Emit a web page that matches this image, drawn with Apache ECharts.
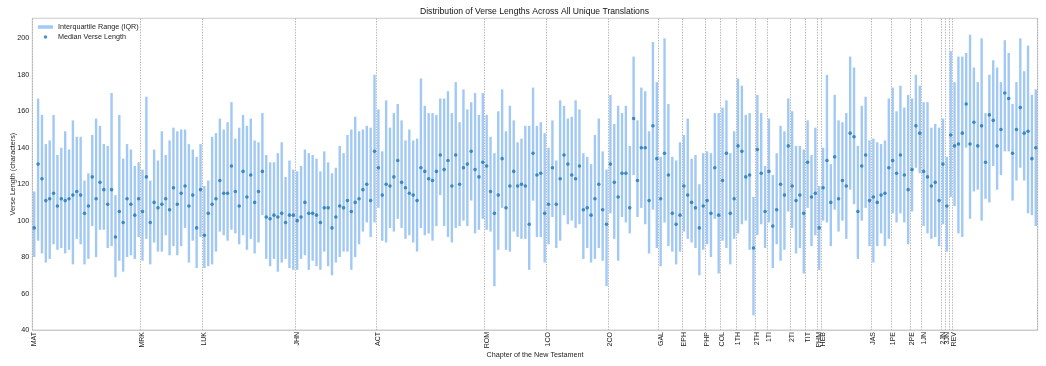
<!DOCTYPE html>
<html>
<head>
<meta charset="utf-8">
<script src="https://cdn.jsdelivr.net/npm/echarts@6.0.0/dist/echarts.min.js"></script>
<style>
  html, body { margin: 0; padding: 0; background: #fff; }
  #chart { width: 1046px; height: 366px; }
</style>
</head>
<body>
<div id="chart"></div>
<script>
// books of the New Testament and how many chapters each one has
const books = ["MAT", "MRK", "LUK", "JHN", "ACT", "ROM", "1CO", "2CO", "GAL", "EPH", "PHP", "COL", "1TH", "2TH",
  "1TI", "2TI", "TIT", "PHM", "HEB", "JAS", "1PE", "2PE", "1JN", "2JN", "3JN", "JUD", "REV"];
const chapterCounts = [28, 16, 24, 21, 28, 16, 16, 13, 6, 6, 4, 4, 5, 3, 6, 4, 3, 1, 13, 5, 5, 3, 5, 1, 1, 1, 22];

// 25th percentile of verse length per chapter
const q1 = [
  80, 89, 82, 77, 79, 87, 84, 85, 82, 84, 76, 90, 87, 76, 79, 97, 80, 95, 95, 85, 86, 69, 78, 72, 80, 81, 79, 91, // MAT
  78, 90, 76, 88, 83, 83, 92, 81, 86, 81, 86, 96, 77, 89, 74, 91, // MRK
  74, 75, 76, 83, 94, 92, 89, 95, 93, 87, 92, 84, 90, 82, 88, 103, 79, 75, 79, 72, 77, 79, 74, 73, // LUK
  73, 79, 81, 73, 78, 75, 73, 83, 75, 70, 77, 80, 83, 83, 73, 80, 87, 94, 99, 91, 99, // JHN
  107, 89, 88, 96, 94, 101, 96, 90, 92, 88, 83, 96, 92, 93, 89, 97, 114, 97, 91, 88, 96, 97, 100, 97, 111, 93, 95, 101, // ACT
  95, 94, 64, 84, 107, 84, 83, 94, 91, 90, 90, 73, 111, 91, 91, 77, // ROM
  87, 102, 85, 89, 103, 98, 100, 96, 98, 79, 85, 77, 79, 85, 78, 64, // 1CO
  104, 90, 78, 102, 99, 93, 125, 102, 107, 98, 82, 106, 85, // 2CO
  75, 99, 86, 83, 76, 83, // GAL
  94, 90, 88, 85, 70, 84, // EPH
  87, 80, 101, 71, // PHP
  89, 85, 76, 90, // COL
  93, 98, 100, 84, 48, // 1TH
  92, 98, 85, // 2TH
  99, 74, 87, 78, 84, 105, // 1TI
  96, 82, 85, 71, // 2TI
  107, 86, 92, // TIT
  73, // PHM
  100, 99, 86, 106, 94, 100, 90, 117, 109, 79, 100, 107, 86, // HEB
  77, 86, 93, 86, 90, // JAS
  104, 99, 104, 99, 87, // 1PE
  105, 129, 126, // 2PE
  97, 93, 90, 91, 86, // 1JN
  98, 83, 113, // 2JN 3JN JUD
  108, 93, 91, 140, 101, 116, 117, 100, 112, 110, 130, 117, 125, 138, 138, 111, 122, 129, 122, 104, 103, 97 // REV
];

// median verse length per chapter
const median = [
  96, 131, 123, 111, 112, 115, 108, 112, 111, 112, 114, 116, 114, 104, 108, 124, 112, 121, 117, 109, 117, 91, 105, 99, 112, 109, 103, 112,
  105, 124, 99, 110, 107, 109, 112, 106, 118, 109, 115, 119, 108, 114, 96, 117,
  92, 104, 109, 112, 122, 115, 115, 130, 116, 108, 127, 113, 125, 110, 116, 127, 102, 101, 103, 102, 104, 99, 103, 103,
  100, 102, 110, 104, 104, 103, 99, 107, 107, 96, 102, 108, 107, 111, 105, 110, 112, 117, 120, 111, 138,
  129, 114, 120, 119, 124, 133, 121, 118, 115, 114, 111, 129, 127, 123, 122, 127, 136, 128, 133, 119, 136, 120, 129, 131, 138, 128, 124, 132,
  130, 116, 104, 114, 134, 107, 119, 127, 119, 120, 119, 98, 137, 125, 126, 104,
  109, 129, 109, 123, 136, 131, 125, 123, 130, 106, 107, 103, 112, 120, 106, 98,
  131, 121, 113, 126, 126, 107, 156, 122, 140, 140, 111, 152, 134,
  112, 137, 125, 104, 98, 103,
  119, 114, 110, 107, 96, 108,
  111, 104, 129, 103,
  122, 137, 104, 112,
  141, 138, 124, 125, 85,
  139, 126, 105,
  127, 97, 106, 120, 114, 141,
  119, 111, 114, 104,
  132, 113, 115,
  96,
  118, 133, 110, 135, 112, 122, 119, 148, 146, 105, 130, 136, 111,
  113, 110, 114, 115, 129,
  133, 126, 136, 125, 117,
  128, 152, 148,
  127, 124, 119, 121, 111,
  131, 108, 147,
  141, 142, 148, 164, 142, 154, 141, 152, 132, 158, 155, 141, 150, 170, 167, 137, 150, 162, 148, 149, 134, 140
];

// 75th percentile per chapter
const q3 = [
  116, 167, 158, 142, 144, 158, 136, 140, 149, 139, 155, 146, 146, 122, 126, 147, 156, 152, 142, 141, 170, 114, 158, 134, 142, 139, 130, 132,
  128, 168, 122, 139, 133, 149, 136, 144, 151, 149, 150, 150, 142, 139, 135, 142,
  119, 122, 146, 148, 156, 150, 154, 165, 145, 151, 158, 152, 156, 144, 143, 159, 136, 132, 132, 137, 143, 124, 133, 128,
  127, 130, 139, 137, 136, 134, 127, 138, 132, 126, 129, 141, 137, 147, 150, 157, 149, 150, 152, 151, 180,
  161, 138, 166, 151, 159, 164, 155, 144, 150, 144, 145, 178, 163, 159, 159, 158, 167, 167, 171, 159, 176, 154, 172, 161, 165, 170, 158, 170,
  158, 146, 137, 160, 172, 149, 163, 155, 143, 145, 152, 152, 173, 152, 154, 148,
  140, 155, 133, 166, 163, 156, 157, 166, 161, 137, 135, 131, 147, 156, 138, 128,
  169, 153, 163, 159, 163, 141, 190, 155, 173, 171, 149, 198, 176,
  135, 200, 164, 135, 133, 143,
  147, 156, 134, 136, 120, 137,
  138, 137, 159, 159,
  162, 166, 137, 149,
  178, 174, 158, 159, 113,
  169, 159, 130,
  156, 125, 137, 152, 149, 167,
  160, 141, 141, 139,
  155, 136, 151,
  119,
  140, 180, 131, 169, 155, 154, 159, 190, 184, 141, 163, 168, 144,
  145, 143, 142, 144, 167,
  173, 160, 174, 162, 169,
  167, 180, 174,
  165, 165, 151, 153, 151,
  156, 135, 193,
  176, 190, 190, 192, 202, 184, 176, 200, 159, 180, 188, 184, 176, 199, 192, 164, 176, 200, 182, 196, 169, 172
];

// y axis range
const yMin = 40;
const yMax = 211;
const yStep = 20;

const FONT = "'Liberation Sans', Arial, Helvetica, sans-serif";
const TEXT = "#222";

// one category per chapter, e.g. "MAT 1"
const chapters = [];
const bookStarts = new Set();
books.forEach((b, k) => {
  bookStarts.add(chapters.length);
  for (let c = 1; c <= chapterCounts[k]; c++) chapters.push(b + " " + c);
});

const isBookStart = (idx) => bookStarts.has(idx);

const option = {
  animation: false,
  backgroundColor: "#fff",
  textStyle: { fontFamily: FONT },
  title: {
    text: "Distribution of Verse Lengths Across All Unique Translations",
    left: 420,
    top: 7,
    padding: 0,
    textStyle: { fontFamily: FONT, fontSize: 8.6, fontWeight: "normal", color: "#111" },
  },
  legend: {
    orient: "vertical",
    left: 38,
    top: 23.5,
    padding: 0,
    itemWidth: 15,
    itemHeight: 3.5,
    itemGap: 3,
    textStyle: { fontFamily: FONT, fontSize: 7.2, color: TEXT },
    data: [
      { name: "Interquartile Range (IQR)", icon: "rect" },
      { name: "Median Verse Length", icon: "circle" },
    ],
  },
  grid: {
    left: 32.3,
    right: 8.3,
    top: 18.3,
    bottom: 36,
    show: true,
    borderColor: "#cccccc",
    borderWidth: 1,
    containLabel: false,
    outerBoundsMode: "none",
  },
  xAxis: {
    type: "category",
    data: chapters,
    boundaryGap: true,
    name: "Chapter of the New Testament",
    nameLocation: "middle",
    nameGap: 22,
    nameMoveOverlap: false,
    nameTextStyle: { fontFamily: FONT, fontSize: 7.2, color: TEXT },
    axisLine: { show: true, lineStyle: { color: "#cccccc", width: 1 } },
    axisTick: { show: false },
    axisLabel: {
      interval: isBookStart,
      rotate: 90,
      margin: 2,
      fontSize: 7,
      color: TEXT,
      fontFamily: FONT,
      hideOverlap: false,
      showMinLabel: true,
      showMaxLabel: true,
      formatter: (v) => v.split(" ")[0],
    },
    splitLine: {
      show: true,
      interval: isBookStart,
      lineStyle: { color: "#a8a8a8", width: 0.8, type: [1.5, 1.2] },
    },
  },
  yAxis: {
    type: "value",
    min: yMin,
    max: yMax,
    interval: yStep,
    name: "Verse Length (characters)",
    nameLocation: "middle",
    nameGap: 16,
    nameMoveOverlap: false,
    nameTextStyle: { fontFamily: FONT, fontSize: 7.2, color: TEXT },
    axisLine: { show: false },
    axisTick: { show: false },
    splitLine: { show: false },
    axisLabel: { fontSize: 7.2, color: TEXT, fontFamily: FONT, margin: 3, showMaxLabel: false },
  },
  series: [
    {
      name: "Interquartile Range (IQR)",
      type: "custom",
      itemStyle: { color: "#a1c9f4" },
      encode: { x: 0, y: [1, 2] },
      data: chapters.map((c, i) => [i, q1[i], q3[i]]),
      renderItem: (params, api) => {
        const lo = api.coord([api.value(0), api.value(1)]);
        const hi = api.coord([api.value(0), api.value(2)]);
        const w = 2.4;
        return {
          type: "rect",
          shape: { x: lo[0] - w / 2, y: hi[1], width: w, height: lo[1] - hi[1] },
          style: { fill: api.visual("color") },
        };
      },
      z: 2,
    },
    {
      name: "Median Verse Length",
      type: "scatter",
      symbol: "circle",
      symbolSize: 3.6,
      itemStyle: { color: "#1f77b4" },
      data: median,
      z: 3,
    },
  ],
};

const myChart = echarts.init(document.getElementById("chart"), null, { renderer: "canvas" });
myChart.setOption(option);
</script>
</body>
</html>
